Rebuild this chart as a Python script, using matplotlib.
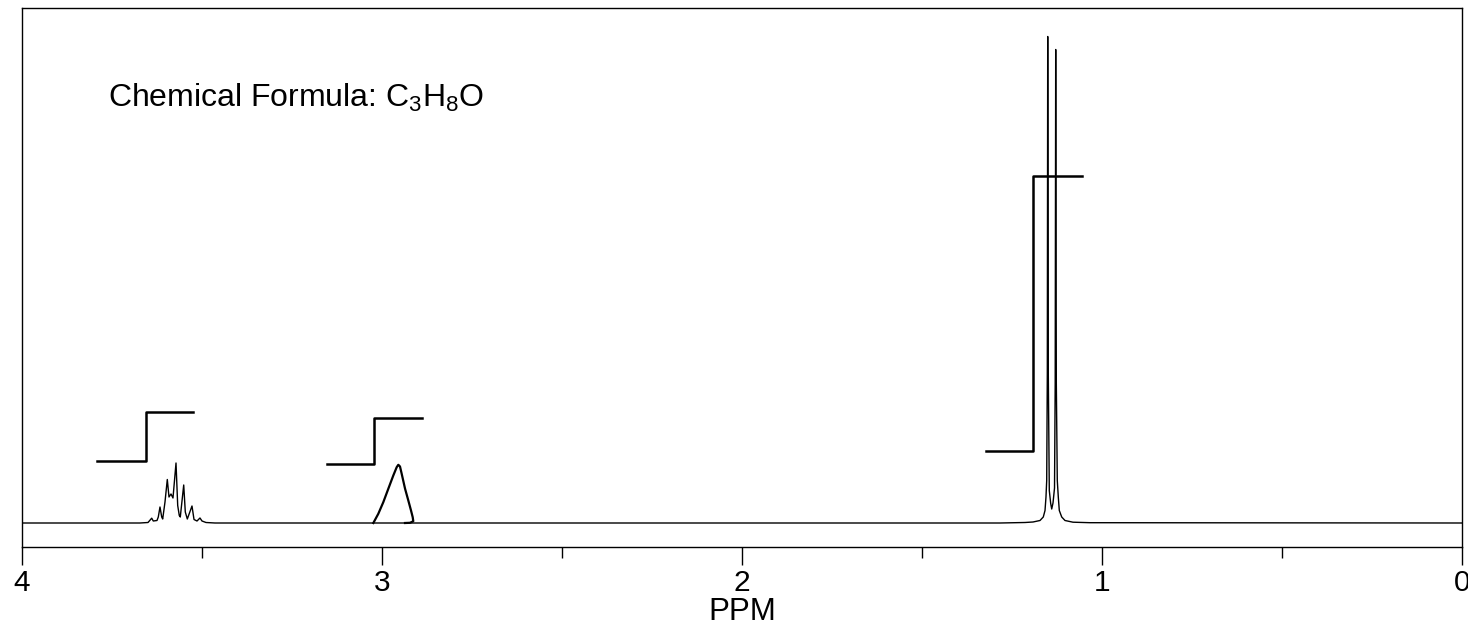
## Imports
import numpy as np
import matplotlib.pyplot as plt

## Styles
plt.rcParams['font.family'] = ['Liberation Sans', 'DejaVu Sans']
plt.rcParams['mathtext.default'] = 'regular'

# Spectrum trace (ppm, intensity above baseline)
spec_ppm = [4.0, 3.6722, 3.65, 3.6397, 3.6353, 3.625, 3.6214, 3.6167, 3.6119,
            3.6092, 3.6028, 3.5964, 3.5917, 3.5861, 3.5806, 3.5722, 3.5675,
            3.5631, 3.5603, 3.5508, 3.5464, 3.5408, 3.5278, 3.5222, 3.5139,
            3.5056, 3.5, 3.4889, 3.4639,
            1.2833, 1.2139, 1.1917, 1.1722, 1.1631, 1.1583, 1.1556, 1.1536,
            1.1519, 1.1508, 1.1492, 1.1464, 1.1425, 1.1397, 1.1361, 1.1319,
            1.13, 1.1286, 1.1269, 1.1242, 1.1214, 1.1186, 1.1119, 1.1028,
            1.0806, 1.0333, 0.0]
spec_int = [0, 0, 0.5, 4.8, 2, 2.5, 6, 16, 6,
            4, 21, 43.5, 26, 29, 25, 60, 17.5,
            7.5, 6, 38, 11, 4, 17, 3.5, 2,
            5, 2, 0.5, 0,
            0, 0.5, 1, 2.5, 6, 12.5, 26, 42.5,
            150, 486.5, 150, 32.5, 19.5, 14, 20, 35,
            140, 473.5, 140, 42.5, 26, 12.5, 6, 2.5,
            0.8, 0.3, 0]

# OH peak (drawn heavier, with the small hook at its foot)
oh_ppm = [3.0241, 3.0103, 2.9964, 2.9825, 2.9686, 2.9592, 2.9547, 2.95,
          2.9453, 2.9361, 2.9269, 2.9194, 2.9147, 2.9131, 2.9222, 2.9361]
oh_int = [0, 9.2, 20.8, 34.2, 47.5, 55.8, 58.2, 56.5,
          49.2, 34.5, 22.5, 12.5, 5.8, 1.8, 0.2, 0]

# Integral steps: (start, step, end) ppm and (low, high) levels
integ_ppm = [(3.7917, 3.6556, 3.525), (3.1528, 3.0222, 2.8889), (1.3222, 1.1908, 1.0564)]
integ_lvl = [(62.5, 111.5), (59.5, 105.5), (72.5, 347.5)]

major_ticks = [4, 3, 2, 1, 0]
minor_ticks = [3.5, 2.5, 1.5, 0.5]

fig = plt.figure(figsize=(14.68, 6.25), dpi=100)
ax = fig.add_axes([22/1468, 78/625, 1440/1468, 539/625])

ax.plot(spec_ppm, spec_int, color='black', lw=1.0)
ax.plot(oh_ppm, oh_int, color='black', lw=1.6)
for (a, b, c), (lo, hi) in zip(integ_ppm, integ_lvl):
    ax.plot([a, b, b, c], [lo, lo, hi, hi], color='black', lw=1.8)

ax.text(3.761, 415.8, r'Chemical Formula: C$_3$H$_8$O', fontsize=23, va='baseline', ha='left')

ax.set_xlim(4, 0)
ax.set_ylim(-24, 515)
ax.set_yticks([])
ax.set_xticks(major_ticks)
ax.set_xticklabels([str(t) for t in major_ticks])
ax.set_xticks(minor_ticks, minor=True)
ax.tick_params(axis='x', which='major', direction='out', length=13, width=1, labelsize=21.5, pad=3)
ax.tick_params(axis='x', which='minor', direction='out', length=8, width=1)
ax.set_xlabel('PPM', fontsize=22.5, labelpad=0)
for s in ax.spines.values():
    s.set_linewidth(1)

plt.savefig('out.png', dpi=100)
